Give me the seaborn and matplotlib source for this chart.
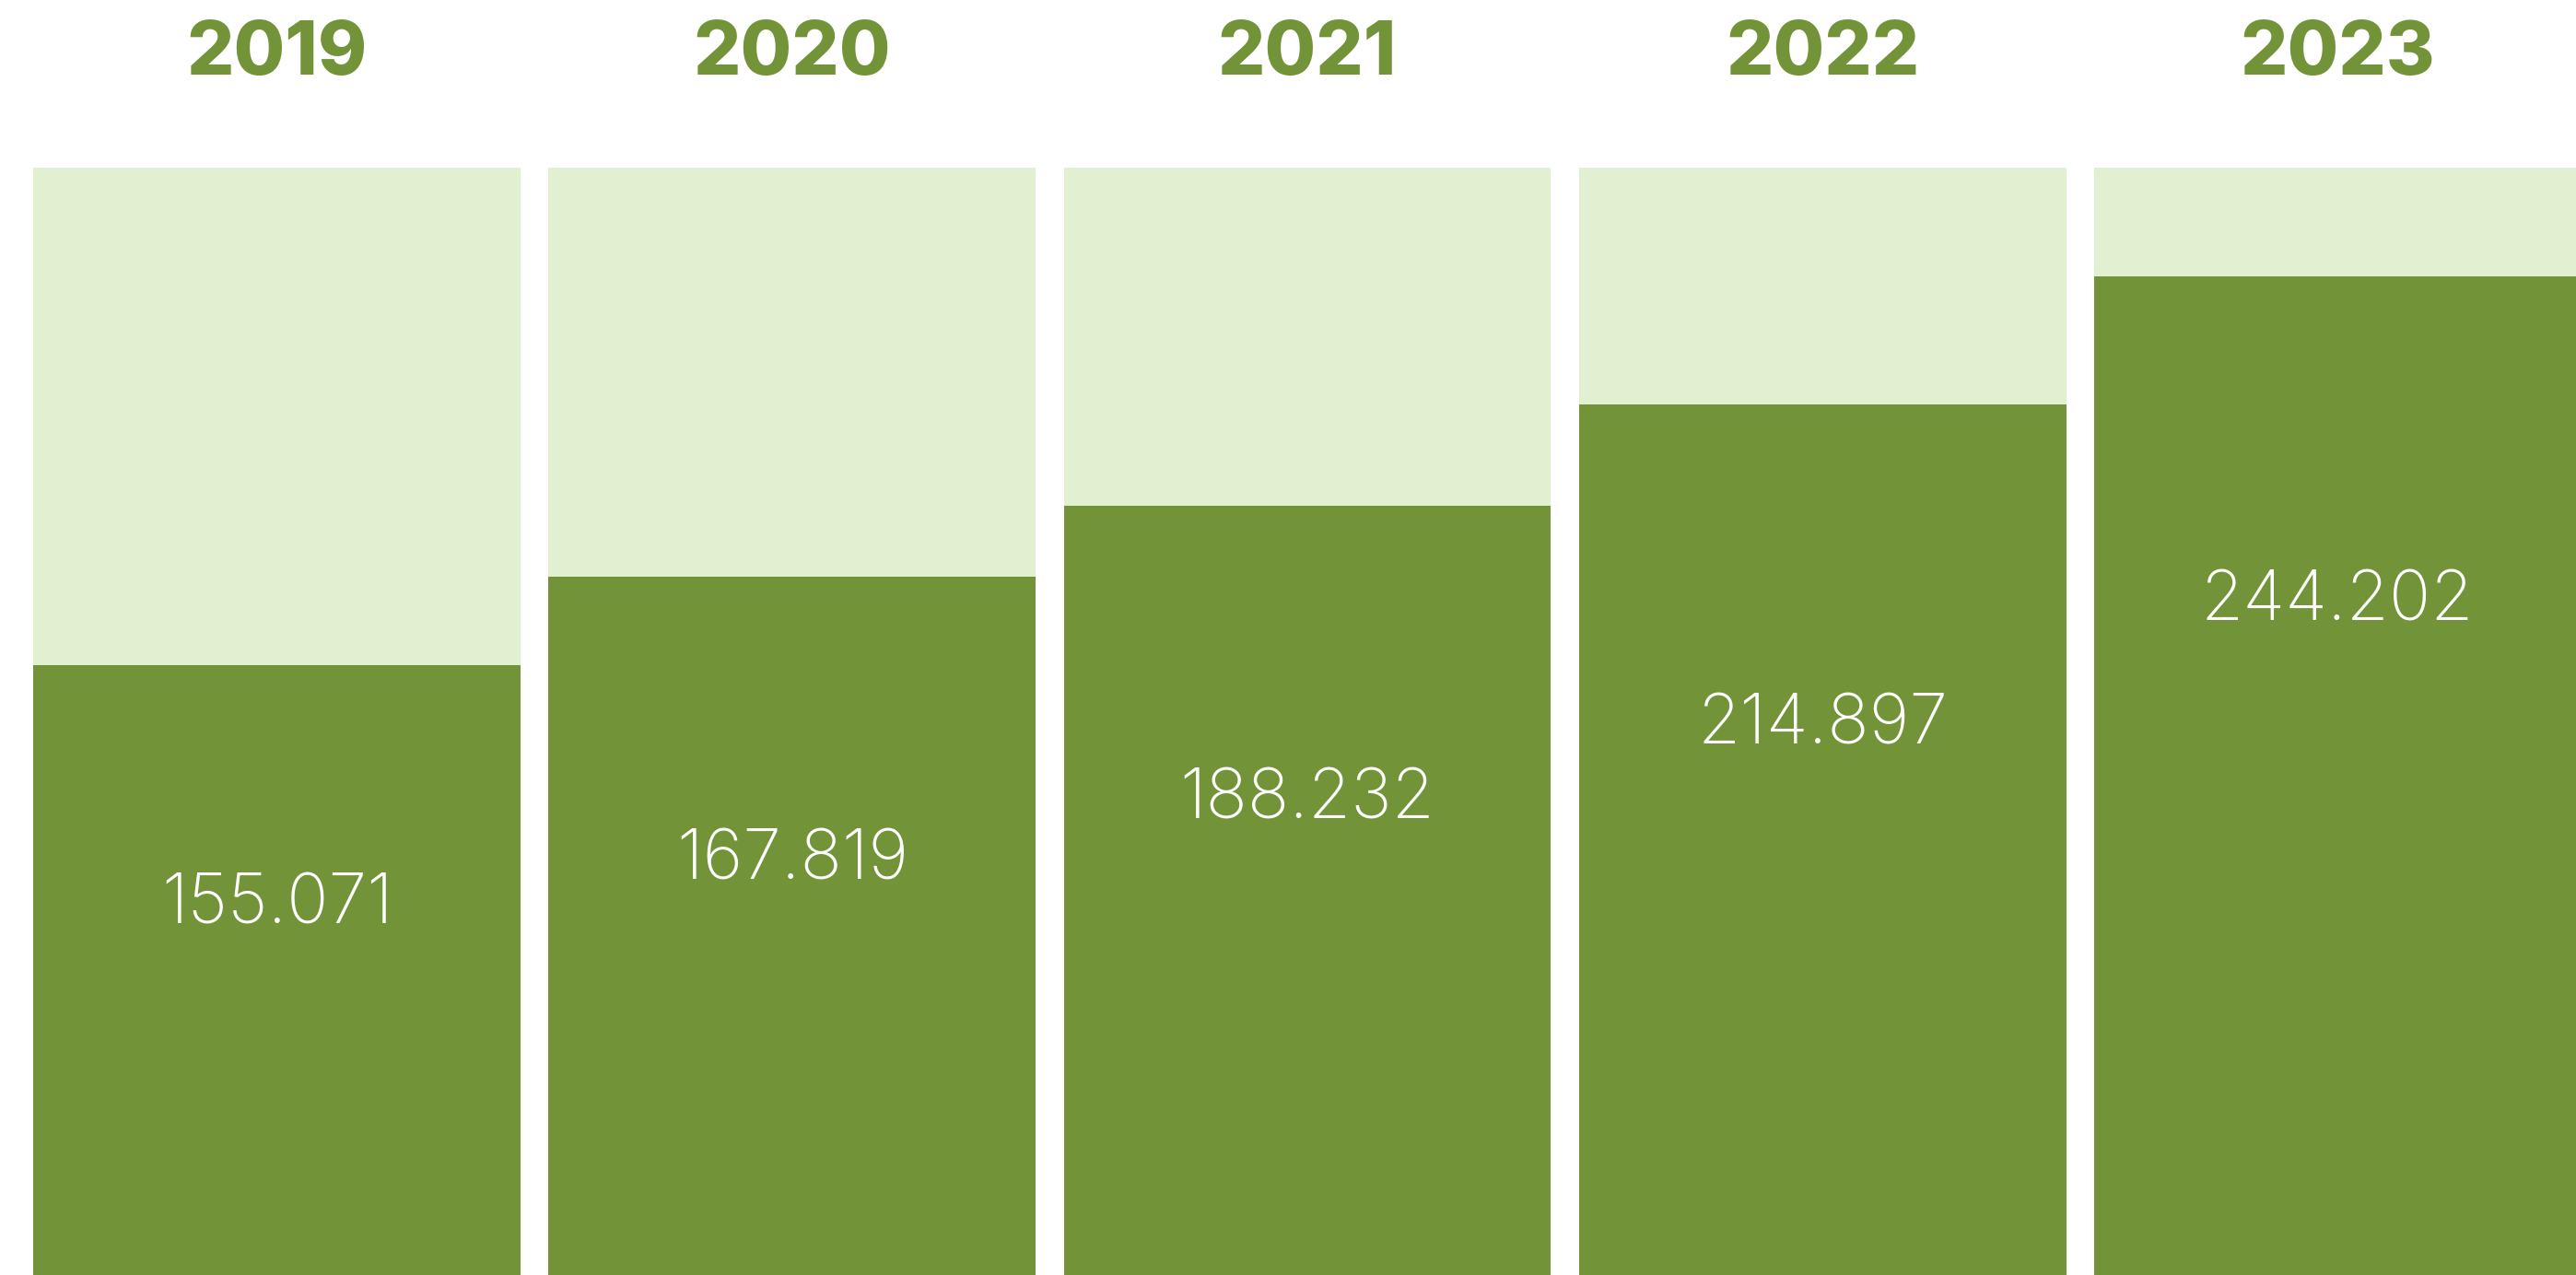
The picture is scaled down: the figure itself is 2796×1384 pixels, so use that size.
import matplotlib
matplotlib.use("Agg")
import matplotlib.pyplot as plt
import seaborn as sns
import pandas as pd

# data
years = ["2019", "2020", "2021", "2022", "2023"]
value_labels = ["155.071", "167.819", "188.232", "214.897", "244.202"]
# filled share of each column (dark part vs. full light column)
share = [0.551, 0.631, 0.695, 0.786, 0.902]
full = [1.0, 1.0, 1.0, 1.0, 1.0]
# baseline of the white value text, same units as share
label_y = [0.317, 0.357, 0.412, 0.480, 0.5915]

dark = "#729338"
light = "#e2f0d2"

df = pd.DataFrame({"year": years, "share": share, "full": full})

sns.set_theme(style="white")
plt.rcParams["font.family"] = ["Inter", "DejaVu Sans"]

fig = plt.figure(figsize=(13.98, 6.92), dpi=200)
ax = fig.add_axes([0, 0, 1, 1])

bw = 0.946
sns.barplot(data=df, x="year", y="full", color=light, saturation=1, width=bw,
            linewidth=0, edgecolor="none", ax=ax)
sns.barplot(data=df, x="year", y="share", color=dark, saturation=1, width=bw,
            linewidth=0, edgecolor="none", ax=ax)

# labels
for i, (yr, lab, ly) in enumerate(zip(years, value_labels, label_y)):
    ax.text(i, 1.084, yr, ha="center", va="baseline", fontsize=29,
            fontweight="heavy", color=dark)
    ax.text(i, ly, lab, ha="center", va="baseline",
            fontsize=27, fontweight="light", color="white")

ax.set_xlim(-0.538, 4.463)
ax.set_ylim(0, 1.1514)
ax.set_axis_off()

fig.savefig("out.png", dpi=200, facecolor="white")
